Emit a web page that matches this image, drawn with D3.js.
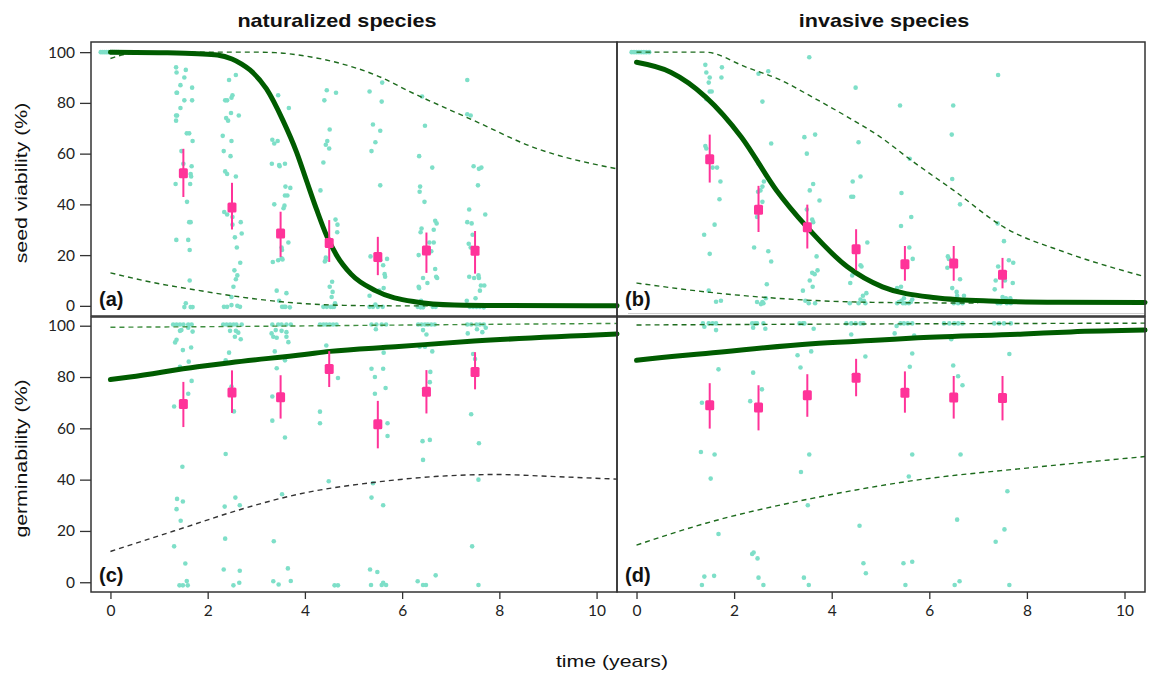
<!DOCTYPE html>
<html>
<head>
<meta charset="utf-8">
<script src="https://cdn.jsdelivr.net/npm/d3@7"></script>
<style>
    body { margin: 0; background: #fff; }
    svg { display: block; }
    .tick text { font-family: Lato, "Open Sans", sans-serif; font-size: 15.5px; fill: #222; }
    .tick line { stroke: #333; stroke-width: 1.3; }
</style>
</head>
<body>
<div id="chart"></div>
<script>
// DATA
// raw points: [time, value]
const dotsA = [
    [-0.2,100],[-0.16,100],[-0.12,100],[-0.08,100],[-0.04,100],[0,100],[0.04,100],[0.08,100],[0.12,100],[0.16,100],
    [1.35,94],[1.55,93],[1.36,92],[1.52,90],[1.44,87],[1.68,86],[1.37,84],[1.36,84],[1.52,81],[1.68,81],[1.44,78],[1.35,75],[1.37,75],[1.35,73],[1.57,68],[1.62,68],[1.69,65],[1.46,61],[1.50,56],[1.67,55],[1.65,52],[1.66,51],[1.34,48],[1.64,48],[1.575,41],[1.62,33],[1.65,33],[1.355,26],[1.60,26],[1.63,22],[1.63,10],[1.55,1],[1.52,-0.5],[1.65,-0.5],[1.69,-0.5],
    [2.58,91],[2.44,89],[2.51,83],[2.49,82],[2.36,81],[2.40,81],[2.48,76],[2.64,75],[2.38,74],[2.42,73],[2.31,67],[2.49,65],[2.33,61],[2.47,59],[2.36,53],[2.40,52],[2.58,51],[2.34,37],[2.40,36],[2.51,35],[2.68,33],[2.51,32],[2.70,28.5],[2.56,27],[2.60,23],[2.67,17],[2.55,14],[2.61,12],[2.58,10.5],[2.53,7.5],[2.49,3.5],[2.335,-0.4],[2.40,-0.4],[2.49,0.3],[2.61,0],[2.665,-0.4],
    [3.45,83],[3.67,78],[3.33,65.5],[3.44,65],[3.37,64],[3.32,56],[3.47,55.5],[3.48,55],[3.59,56],[3.60,47],[3.70,46.5],[3.59,43.5],[3.64,43.5],[3.37,40],[3.58,39.5],[3.56,38.5],[3.66,25],[3.52,23],[3.53,22],[3.52,18.7],[3.34,17.3],[3.45,18],[3.54,18.3],[3.42,6],[3.62,5],[3.47,2],[3.53,-0.4],[3.57,-0.4],[3.60,-0.4],[3.69,-0.6],
    [4.45,85],[4.64,84],[4.40,81],[4.51,69.5],[4.46,65],[4.43,63.5],[4.50,62],[4.38,56.5],[4.32,45.5],[4.63,34],[4.67,32],[4.665,29],[4.43,19],[4.425,18],[4.41,17.5],[4.56,9.5],[4.51,7.5],[4.57,5.5],[4.55,3.5],[4.62,1],[4.38,-0.4],[4.45,-0.4],[4.53,-0.4],[4.57,-0.4],[4.60,-0.4],
    [5.33,84.5],[5.59,88],[5.58,80.5],[5.40,71.5],[5.45,64.5],[5.55,69],[5.37,61],[5.55,47.5],[5.35,19.5],[5.55,18],[5.69,18.5],[5.61,16],[5.64,12.5],[5.65,11.5],[5.62,7],[5.53,6],[5.33,4],[5.33,-0.4],[5.40,-0.4],[5.50,-0.4],[5.60,-0.4],[5.45,0.5],
    [6.41,82.5],[6.47,71],[6.35,59],[6.62,54.5],[6.37,47],[6.36,45],[6.46,41],[6.68,33.5],[6.71,32.5],[6.40,30.5],[6.38,29],[6.65,30],[6.56,25],[6.65,25],[6.34,20],[6.60,21.5],[6.68,14.5],[6.43,11],[6.70,11.5],[6.72,11],[6.52,9],[6.34,7.5],[6.35,7],[6.39,2],[6.32,-0.4],[6.38,-0.6],[6.43,-0.6],[6.63,-0.4],[6.69,-0.4],
    [7.34,89],[7.34,75.5],[7.41,75],[7.47,55],[7.63,54.5],[7.58,54],[7.56,47.5],[7.38,38],[7.71,36],[7.34,33],[7.43,32.5],[7.45,28],[7.37,24.5],[7.41,23],[7.38,11.5],[7.48,11],[7.57,12],[7.58,11],[7.62,8],[7.69,8],[7.60,6],[7.51,3],[7.33,2],[7.39,-0.4],[7.46,-0.4],[7.53,-0.4],[7.60,-0.4],[7.68,-0.6]
];
const dotsB = [
    [-0.1,100],[-0.05,100],[0,100],[0.05,100],[0.1,100],[0.15,100],[0.2,100],[0.26,100],
    [1.41,95],[1.43,92],[1.50,90],[1.75,94],[1.74,90],[1.48,88],[1.50,84.5],[1.54,84.5],[1.43,81.5],[1.41,63],[1.43,62],[1.56,54.5],[1.65,54.5],[1.72,49],[1.70,42],[1.60,32],[1.386,28],[1.50,20.5],[1.48,6],[1.63,1.6],[1.73,2],
    [2.50,91.5],[2.70,92.5],[2.58,80.5],[2.76,64],[2.45,58],[2.50,56],[2.61,49],[2.58,47],[2.54,45.5],[2.49,45],[2.58,41],[2.47,35],[2.41,23],[2.70,21.5],[2.76,17.5],[2.67,8.5],[2.65,3],[2.47,1.5],[2.58,1.5],[2.60,1],[2.55,0.7],
    [3.54,98],[3.44,66.5],[3.66,67.5],[3.49,60],[3.62,48],[3.55,45.5],[3.75,41.5],[3.49,38],[3.60,34],[3.62,33],[3.69,19.5],[3.60,13],[3.65,12.5],[3.71,14],[3.55,10],[3.61,7.5],[3.41,6],[3.46,2],[3.53,1],[3.66,1],
    [4.49,86],[4.55,64.5],[4.59,51],[4.43,49],[4.40,43],[4.44,43],[4.73,25],[4.59,16],[4.61,15.5],[4.42,12],[4.38,9],[4.71,5],[4.64,4],[4.59,2.5],[4.66,2],[4.55,1],[4.37,1],[4.69,1],
    [5.40,79],[5.60,58],[5.43,44.5],[5.63,35],[5.42,31.5],[5.59,23],[5.66,18.5],[5.42,7.5],[5.34,7],[5.48,3],[5.65,2.5],[5.43,2],[5.38,1.5],[5.62,1.5],[5.51,1],[5.58,1],[5.46,1],[5.34,1],
    [6.49,79],[6.46,67.5],[6.47,50],[6.63,40],[6.38,19.5],[6.40,18.5],[6.37,15],[6.63,10.5],[6.47,7],[6.56,5.5],[6.57,4],[6.71,4],[6.61,2.5],[6.50,1],[6.59,1],[6.68,1],
    [7.41,91],[7.40,32.5],[7.53,25.5],[7.63,18],[7.72,17],[7.41,15.5],[7.36,10],[7.55,10],[7.71,9],[7.34,6.5],[7.50,3.5],[7.57,3],[7.66,3],[7.46,1],[7.40,1],[7.59,1],[7.67,1]
];
const dotsC = [
    [1.29,100.5],[1.36,100.5],[1.43,100.5],[1.50,100.5],[1.60,100.5],[1.67,100.5],[1.46,98.3],[1.43,98],[1.60,99.2],[1.69,97.7],[1.36,94.5],[1.33,93.5],[1.49,90.5],[1.66,91.5],[1.61,86],[1.43,84],[1.67,78.5],[1.60,73.5],[1.31,68.5],[1.48,45],[1.37,32.5],[1.49,31.5],[1.36,28.5],[1.445,24],[1.31,14],[1.54,7.3],[1.57,0.5],[1.42,-1.2],[1.49,-1.2],[1.59,-1.2],
    [2.32,100.5],[2.39,100.5],[2.46,100.5],[2.53,100.5],[2.59,100.5],[2.70,100.5],[2.46,98],[2.58,98],[2.63,97.3],[2.56,95.7],[2.68,94.7],[2.44,89.5],[2.37,86.5],[2.49,76.3],[2.54,66.6],[2.37,50],[2.57,33],[2.35,29.5],[2.66,30],[2.36,17],[2.33,5],[2.66,4.5],[2.53,-1.2],[2.65,-0.2],
    [3.33,100.5],[3.45,100.5],[3.52,100.5],[3.62,100.5],[3.71,100.5],[3.40,98.3],[3.52,98],[3.62,97.5],[3.315,97],[3.35,95.7],[3.42,95.3],[3.62,95.7],[3.66,93.6],[3.38,90],[3.59,86.5],[3.42,83.4],[3.33,72.4],[3.33,63],[3.59,56.4],[3.53,34.3],[3.36,16],[3.65,5.4],[3.35,0.4],[3.46,-0.9],[3.71,0.5],
    [4.31,100.5],[4.38,100.5],[4.44,100.5],[4.51,100.5],[4.58,100.5],[4.65,100.5],[4.44,92.3],[4.68,79.6],[4.31,66.5],[4.31,62],[4.49,39.4],[4.61,-1.2],[4.68,-1.2],
    [5.37,100.5],[5.47,100.5],[5.58,100.5],[5.67,100.5],[5.46,98.6],[5.62,89.5],[5.37,83.2],[5.61,83.2],[5.44,80],[5.66,75.7],[5.44,73.5],[5.70,62],[5.70,57],[5.40,38.6],[5.37,33],[5.61,30],[5.34,5],[5.49,4],[5.36,-1.1],[5.61,-0.2],[5.67,-1.1],[5.58,-1.1],
    [6.33,100.5],[6.40,100.5],[6.47,100.5],[6.53,100.5],[6.60,100.5],[6.67,100.5],[6.43,98.3],[6.50,96.6],[6.36,91.8],[6.47,91.8],[6.62,90],[6.58,82],[6.57,78],[6.42,55],[6.57,55.5],[6.43,47.7],[6.32,0.4],[6.43,-1.1],[6.49,-1.1],[6.69,2.7],
    [7.34,100.5],[7.42,100.5],[7.53,100.5],[7.60,100.5],[7.68,100.5],[7.72,99.2],[7.54,98.6],[7.65,97.5],[7.35,97],[7.46,89],[7.50,87],[7.42,65.5],[7.58,54.2],[7.57,40],[7.44,14],[7.57,-1.1]
];
const dotsD = [
    [1.36,100.9],[1.48,100.9],[1.56,100.9],[1.63,100.9],[1.39,99.6],[1.63,98.3],[1.68,83],[1.34,70],[1.32,50.8],[1.60,49.8],[1.52,40.4],[1.68,18.8],[1.39,2.2],[1.59,2.5],[1.34,-1.1],
    [2.37,100.9],[2.43,100.9],[2.47,100.9],[2.60,100.9],[2.39,99.2],[2.64,98.8],[2.39,81.7],[2.57,75.2],[2.33,70.6],[2.37,11],[2.40,11.6],[2.48,9.3],[2.50,1.8],[2.60,-1.1],
    [3.34,100.9],[3.41,100.9],[3.44,100.9],[3.63,98.8],[3.30,88.5],[3.58,90],[3.36,83.7],[3.53,72.6],[3.37,43],[3.54,49.8],[3.51,30],[3.43,1.8],[3.53,-1.1],
    [4.30,100.9],[4.40,100.9],[4.49,100.9],[4.59,100.9],[4.65,100.9],[4.40,96.6],[4.69,88],[4.57,22],[4.65,7.4],[4.70,3.5],
    [5.33,99.9],[5.41,100.9],[5.48,100.9],[5.56,100.9],[5.65,100.9],[5.29,97],[5.69,96.2],[5.65,89.2],[5.60,84],[5.65,49.8],[5.58,41.2],[5.47,7.4],[5.65,8],[5.51,-1.1],
    [6.30,100.9],[6.41,100.9],[6.51,100.9],[6.59,100.9],[6.68,100.9],[6.45,94.7],[6.49,84.5],[6.59,80.3],[6.68,76.8],[6.64,49.8],[6.57,24.4],[6.62,0.4],[6.52,-1.1],
    [7.33,100.9],[7.43,100.9],[7.53,100.9],[7.67,100.9],[7.64,89],[7.60,35.5],[7.54,20.6],[7.36,15.8],[7.64,-1.1]
];

// means with error bars: [mean, low, high] at each sampling time
const meanTimes = [1.5, 2.5, 3.5, 4.5, 5.5, 6.5, 7.5];
const meansA = [[52.3,42.9,61.9],[38.8,30.1,48.5],[28.5,19.3,37.1],[24.8,17.3,33.8],[19.3,12.1,27.2],[21.8,13,28.9],[21.7,12.7,29.5]];
const meansB = [[57.8,48.6,67.5],[37.9,29.1,47.3],[31.0,22.6,39.9],[22.3,14.1,30.2],[16.4,9.9,23.6],[16.7,9.9,23.6],[12.3,6.9,18.9]];
const meansC = [[69.5,60.5,78.1],[74.0,66,82.6],[72.1,63.8,80.7],[83.1,76.1,90.1],[61.6,52.2,70.7],[74.3,65.8,82.7],[82.0,75.2,89.7]];
const meansD = [[69.0,59.9,77.6],[68.1,59.2,76.8],[72.9,64.5,81.1],[79.7,72.5,87.1],[73.9,66.1,82.2],[72.0,63.8,80.4],[71.8,63.1,80.4]];

// fitted curves and bands: [time, value]
const fitA = [[0,100],[1,99.8],[1.8,99.4],[2.2,98.9],[2.5,97.3],[2.7,95.3],[2.87,93],[3.21,85.5],[3.55,73],[3.83,60.5],[4.03,49.5],[4.24,38],[4.45,27.5],[4.65,20],[4.95,12.5],[5.45,6],[6.26,1.6],[7.07,0.3],[8,0.1],[10.42,0]];
const upperA = [[0,97.5],[0.4,99.4],[1,99.8],[2,100],[3,100],[3.4,99.8],[4,98.5],[4.64,96],[5.45,91],[6.26,83.5],[7.48,73],[8.7,62.5],[10.42,54]];
const lowerA = [[0,13],[0.8,9.5],[1.84,6],[2.87,3],[3.9,1],[4.8,0.2],[6,0],[6.8,0]];

const fitB = [[0,96],[0.7,92.1],[1.42,82.3],[2.15,66.5],[2.87,45.5],[3.49,31.1],[4.32,15.4],[5.04,7.5],[6.13,3.2],[7.22,1.9],[8.65,1.4],[10.42,1.3]];
const upperB = [[0,100],[1.4,100],[2.26,94],[2.95,89],[3.63,82],[4.32,74.5],[5.0,66.5],[5.62,57.5],[6.5,45.5],[7.53,31],[8.8,21],[10.42,11.5]];
const lowerB = [[0,9],[1.42,5.5],[2.87,3],[4.32,1.6],[5.77,1.2],[7,1.1]];

const fitC = [[0,79],[0.4,80],[1.79,84],[2.46,85.6],[3.99,88.8],[4.51,90],[5.86,91.8],[7.48,94],[10.42,96.8]];
const upperC = [[0,99.4],[2.5,99.7],[5,100.1],[7.5,100.5],[10.42,100.9]];
const lowerC = [[0,12],[1.55,21.5],[2.61,28],[3.91,34.5],[5.45,39],[6.67,41.2],[7.97,42],[9,41.3],[10.42,40.2]];

const fitD = [[0,86.5],[0.89,88.3],[1.42,89.2],[3.6,93],[4.9,94.3],[5.77,95.3],[7.94,96.8],[8.9,97.6],[10.42,98.3]];
const upperD = [[0,100.3],[5,100.7],[10.42,101]];
const lowerD = [[0,14.5],[1.42,23],[3.6,32.7],[5.77,39.9],[7.94,44.4],[10.42,49]];

const yTicks = [0, 20, 40, 60, 80, 100];
const xTicks = [0, 2, 4, 6, 8, 10];
const titles = ["naturalized species", "invasive species"];
const yLabels = ["seed viability (%)", "germinability (%)"];
const xLabel = "time (years)";


let width = 1149,
    height = 673;

let svg = d3.select("#chart").append("svg")
    .attr("width", width)
    .attr("height", height);

let dotColor = "#7edfc8",
    pink = "#ff3399",
    fitColor = "#005c00",
    bandColor = "#1d6b1d";

// scales for the two columns and two rows
let xCols = [
    d3.scaleLinear().domain([-0.4, 10.42]).range([91, 617]),
    d3.scaleLinear().domain([-0.4, 10.42]).range([617, 1145])
];
let yRows = [
    d3.scaleLinear().domain([-4, 104]).range([316, 42]),
    d3.scaleLinear().domain([-3.8, 103.4]).range([592, 317])
];

let panels = [
    { tag: "(a)", col: 0, row: 0, dots: dotsA, means: meansA, fit: fitA, upper: upperA, lower: lowerA, upperColor: bandColor, lowerColor: bandColor },
    { tag: "(b)", col: 1, row: 0, dots: dotsB, means: meansB, fit: fitB, upper: upperB, lower: lowerB, upperColor: bandColor, lowerColor: bandColor },
    { tag: "(c)", col: 0, row: 1, dots: dotsC, means: meansC, fit: fitC, upper: upperC, lower: lowerC, upperColor: "#3f8d3f", lowerColor: "#333" },
    { tag: "(d)", col: 1, row: 1, dots: dotsD, means: meansD, fit: fitD, upper: upperD, lower: lowerD, upperColor: bandColor, lowerColor: bandColor }
];

panels.forEach(function (p) {
    let x = xCols[p.col],
        y = yRows[p.row];

    let g = svg.append("g").attr("class", "panel");

    // raw points
    g.selectAll(".dot")
        .data(p.dots)
        .enter()
        .append("circle").classed("dot", true)
        .attr("cx", function (d) { return x(d[0]); })
        .attr("cy", function (d) { return y(d[1]); })
        .attr("r", 2.3)
        .attr("fill", dotColor);

    let line = d3.line()
        .x(function (d) { return x(d[0]); })
        .y(function (d) { return y(d[1]); })
        .curve(d3.curveMonotoneX);

    // bands
    g.append("path").attr("d", line(p.upper))
        .attr("fill", "none").attr("stroke", p.upperColor)
        .attr("stroke-width", 1.4).attr("stroke-dasharray", "5,4");
    g.append("path").attr("d", line(p.lower))
        .attr("fill", "none").attr("stroke", p.lowerColor)
        .attr("stroke-width", 1.4).attr("stroke-dasharray", "5,4");

    // fitted curve
    g.append("path").attr("d", line(p.fit))
        .attr("fill", "none").attr("stroke", fitColor)
        .attr("stroke-width", 5).attr("stroke-linecap", "round");

    // means + error bars
    let m = g.selectAll(".mean")
        .data(p.means)
        .enter()
        .append("g").classed("mean", true);

    m.append("line")
        .attr("x1", function (d, i) { return x(meanTimes[i]); })
        .attr("x2", function (d, i) { return x(meanTimes[i]); })
        .attr("y1", function (d) { return y(d[1]); })
        .attr("y2", function (d) { return y(d[2]); })
        .attr("stroke", pink)
        .attr("stroke-width", 2);

    m.append("rect")
        .attr("x", function (d, i) { return x(meanTimes[i]) - 4.5; })
        .attr("y", function (d) { return y(d[0]) - 5; })
        .attr("width", 9)
        .attr("height", 10)
        .attr("rx", 1.5)
        .attr("fill", pink);

    // frame
    g.append("rect")
        .attr("x", x.range()[0])
        .attr("y", y.range()[1])
        .attr("width", x.range()[1] - x.range()[0])
        .attr("height", y.range()[0] - y.range()[1])
        .attr("fill", "none")
        .attr("stroke", "#333")
        .attr("stroke-width", 1.5);

    // panel letter
    g.append("text")
        .attr("x", x.range()[0] + 8)
        .attr("y", y.range()[0] - 10)
        .style("font-family", "'Liberation Sans', Arial, sans-serif")
        .style("font-weight", "bold")
        .style("font-size", "20px")
        .attr("fill", "#111")
        .text(p.tag);

    // Y AXIS only on the left column
    if (p.col === 0) {
        let yAxis = d3.axisLeft(y).tickValues(yTicks).tickSize(11).tickPadding(5);
        svg.append("g")
            .attr("transform", "translate(" + x.range()[0] + ",0)")
            .call(yAxis)
            .call(function (a) { a.select(".domain").remove(); });
    }

    // X AXIS only on the bottom row
    if (p.row === 1) {
        let xAxis = d3.axisBottom(x).tickValues(xTicks).tickSize(7).tickPadding(6);
        svg.append("g")
            .attr("transform", "translate(0," + y.range()[0] + ")")
            .call(xAxis)
            .call(function (a) { a.select(".domain").remove(); });
    }
});

// faint line at the bottom of panel (b)
svg.append("line")
    .attr("x1", 628).attr("x2", 1144)
    .attr("y1", 313.5).attr("y2", 313.5)
    .attr("stroke", "#cfcfcf").attr("stroke-width", 1.2);

// TITLES
let labelFont = "'Liberation Sans', Arial, sans-serif";

svg.selectAll(".col-title")
    .data(titles)
    .enter()
    .append("text").classed("col-title", true)
    .attr("transform", function (d, i) {
        let r = xCols[i].range();
        return "translate(" + ((r[0] + r[1]) / 2 - (i === 0 ? 17 : -3)) + ",27) scale(1.2,1)";
    })
    .attr("text-anchor", "middle")
    .style("font-family", labelFont)
    .style("font-weight", "bold")
    .style("font-size", "18px")
    .attr("fill", "#111")
    .text(function (d) { return d; });

svg.selectAll(".row-title")
    .data(yLabels)
    .enter()
    .append("text").classed("row-title", true)
    .attr("transform", function (d, i) {
        let r = yRows[i].range();
        return "translate(27," + ((r[0] + r[1]) / 2 + 4) + ") rotate(-90) scale(1.25,1)";
    })
    .attr("text-anchor", "middle")
    .style("font-family", labelFont)
    .style("font-size", "17px")
    .attr("fill", "#111")
    .text(function (d) { return d; });

svg.append("text")
    .attr("transform", "translate(612,667) scale(1.25,1)")
    .attr("text-anchor", "middle")
    .style("font-family", labelFont)
    .style("font-size", "17px")
    .attr("fill", "#111")
    .text(xLabel);
</script>
</body>
</html>
